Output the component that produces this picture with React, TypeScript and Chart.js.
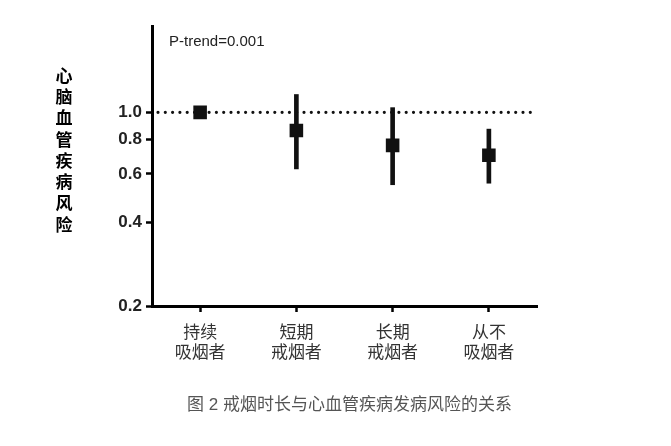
import React, { useEffect, useRef } from 'react';
import { Chart, registerables } from 'chart.js';

Chart.register(...registerables);

// data
const categories = [
  ['持续', '吸烟者'],
  ['短期', '戒烟者'],
  ['长期', '戒烟者'],
  ['从不', '吸烟者'],
];
const riskValues = [1.0, 0.86, 0.76, 0.7];
const ciLower = [null, 0.625, 0.548, 0.555];
const ciUpper = [null, 1.16, 1.04, 0.87];
const yTicks = [0.2, 0.4, 0.6, 0.8, 1.0];
const yTitleChars = ['心', '脑', '血', '管', '疾', '病', '风', '险'];
const referenceValue = 1.0;
const pTrendText = 'P-trend=0.001';
const captionText = '图 2 戒烟时长与心血管疾病发病风险的关系';

const FONT = '"Liberation Sans", Arial, "Noto Sans CJK SC", sans-serif';

// dotted line at 1.0, P-trend note, stacked y title and caption
const annotations = {
  id: 'annotations',
  beforeDatasetsDraw(chart: any) {
    const { ctx, chartArea } = chart;
    const y = chart.scales.y.getPixelForValue(referenceValue);
    ctx.save();
    ctx.strokeStyle = '#111';
    ctx.lineWidth = 3.2;
    ctx.lineCap = 'round';
    ctx.setLineDash([0, 7.3]);
    ctx.beginPath();
    ctx.moveTo(chartArea.left + 6, y);
    ctx.lineTo(chartArea.right - 6, y);
    ctx.stroke();
    ctx.restore();
  },
  afterDraw(chart: any) {
    const { ctx, chartArea, width } = chart;
    ctx.save();
    ctx.fillStyle = '#222';
    ctx.font = `15px ${FONT}`;
    ctx.textAlign = 'left';
    ctx.textBaseline = 'middle';
    ctx.fillText(pTrendText, chartArea.left + 17, chartArea.top + 16);

    ctx.fillStyle = '#000';
    ctx.font = `bold 17px ${FONT}`;
    ctx.textAlign = 'center';
    yTitleChars.forEach((c, i) => {
      ctx.fillText(c, 64, chartArea.top + 51 + i * 21.3);
    });

    ctx.fillStyle = '#555';
    ctx.font = `17px ${FONT}`;
    ctx.fillText(captionText, width / 2 + 14, 405);
    ctx.restore();
  },
};

const App: React.FC = () => {
  const chartRef = useRef<HTMLCanvasElement>(null);

  useEffect(() => {
    if (!chartRef.current) return;
    const ctx = chartRef.current.getContext('2d');
    if (!ctx) return;

    const chart = new Chart(ctx, {
      type: 'bar',
      data: {
        labels: categories as any,
        datasets: [
          {
            type: 'line',
            data: riskValues,
            showLine: false,
            pointStyle: 'rect',
            pointRadius: 9.6,
            pointBackgroundColor: '#111',
            pointBorderWidth: 0,
            order: 0,
          } as any,
          {
            type: 'bar',
            data: ciLower.map((lo, i) => (lo === null ? null : [lo, ciUpper[i]])),
            backgroundColor: '#111',
            borderWidth: 0,
            barThickness: 4,
            grouped: false,
            order: 1,
          } as any,
        ],
      },
      options: {
        responsive: false,
        animation: false,
        layout: { padding: { left: 82, right: 134, top: 26, bottom: 0 } },
        plugins: {
          legend: { display: false },
          tooltip: { enabled: false },
          title: { display: false },
        },
        scales: {
          x: {
            type: 'category',
            offset: true,
            afterFit: (scale: any) => {
              scale.height = 140;
            },
            grid: {
              display: true,
              offset: false,
              drawOnChartArea: false,
              drawTicks: true,
              tickLength: 6,
              tickWidth: 2.5,
              tickColor: '#000',
            },
            border: { display: true, color: '#000', width: 3 },
            ticks: {
              color: '#333',
              font: { family: FONT, size: 17, lineHeight: 1.2 },
              padding: 11,
              maxRotation: 0,
            },
          },
          y: {
            type: 'logarithmic',
            min: 0.2,
            max: 2.05,
            afterFit: (scale: any) => {
              scale.width = 70;
            },
            afterBuildTicks: (scale: any) => {
              scale.ticks = yTicks.map((v) => ({ value: v }));
            },
            grid: {
              display: true,
              drawOnChartArea: false,
              drawTicks: true,
              tickLength: 6,
              tickWidth: 2.5,
              tickColor: '#000',
            },
            border: { display: true, color: '#000', width: 3 },
            ticks: {
              color: '#222',
              font: { family: FONT, size: 17, weight: 'bold' },
              padding: 4,
              callback: (v: any) => Number(v).toFixed(1),
            },
          },
        },
      },
      plugins: [annotations],
    });

    return () => chart.destroy();
  }, []);

  return (
    <div style={{ position: 'absolute', left: 0, top: 0, width: 671, height: 446, background: '#fff' }}>
      <canvas ref={chartRef} width={671} height={446} />
    </div>
  );
};

export default App;
